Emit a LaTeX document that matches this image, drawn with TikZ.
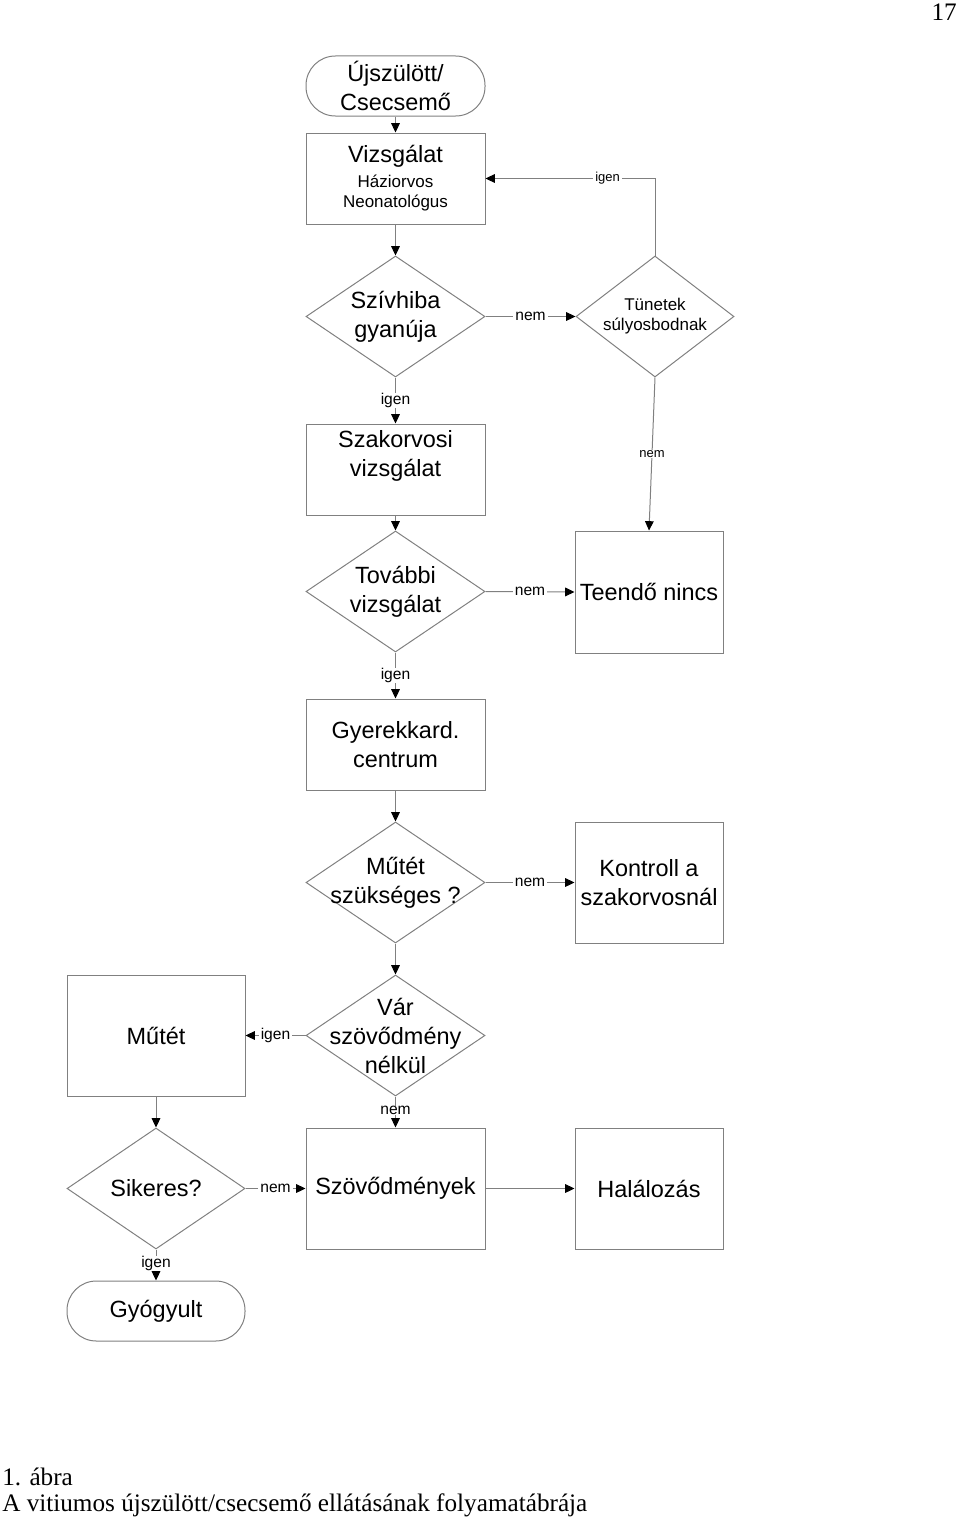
\documentclass[tikz,border=0pt]{standalone}
\usepackage{fontspec}
\setmainfont{Liberation Sans}
\newfontfamily\capserif{Liberation Serif}
\usetikzlibrary{shapes.geometric,arrows.meta}
\definecolor{linegray}{RGB}{128,128,128}
\newcommand\bigf{\fontsize{17.6pt}{21.75pt}\selectfont}
\newcommand\smallf{\fontsize{12.75pt}{15pt}\selectfont}
\newcommand\lblf{\fontsize{11.7pt}{13pt}\selectfont}
\newcommand\slblf{\fontsize{9.75pt}{11pt}\selectfont}
\newcommand\capf{\capserif\fontsize{18.9pt}{21pt}\selectfont}
\begin{document}
\begin{tikzpicture}[x=0.75pt,y=-0.75pt,
  lc/.style={draw=linegray, line width=0.75pt},
  boxs/.style={lc, rectangle, inner sep=0pt, align=center, font=\bigf},
  term/.style={boxs, rounded corners=22pt},
  dia/.style={lc, diamond, inner sep=0pt},
  dtext/.style={align=center, font=\bigf, inner sep=0pt},
  conn/.style={lc, -{Triangle[length=7pt,width=6.5pt,color=black,fill=black]}},
  lbl/.style={fill=white, inner xsep=1.5pt, inner ysep=0.5pt, font=\lblf},
  slbl/.style={lbl, font=\slblf},
]
\useasboundingbox (0,0) rectangle (960,1520);

% nodes
\node[term, minimum width=134.25pt, minimum height=45pt] (start) at (395.5,86) {Újszülött/\\Csecsemő};
\node[boxs, font=\smallf, minimum width=134.25pt, minimum height=68.25pt] (viz) at (395.5,178.5) {{\bigf Vizsgálat}\\[3.75pt]Háziorvos\\Neonatológus};

\node[dia, minimum width=134.25pt, minimum height=90.75pt] (d1) at (395.5,316.5) {};
\node[dtext] (d1t) at (d1.center) {Szívhiba\\gyanúja};

\node[dia, minimum width=118.5pt, minimum height=90.75pt] (d2) at (655,316.5) {};
\node[dtext, font=\smallf] (d2t) at (d2.center) {Tünetek\\súlyosbodnak};

\node[boxs, minimum width=134.25pt, minimum height=68.25pt] (szak) at (395.5,469.5) {Szakorvosi\\vizsgálat\\[-4.5pt]\strut};

\node[dia, minimum width=134.25pt, minimum height=90.75pt] (d3) at (395.5,591.5) {};
\node[dtext] (d3t) at (d3.center) {További\\vizsgálat};

\node[boxs, minimum width=111pt, minimum height=91.5pt] (teen) at (649,592) {Teendő nincs};

\node[boxs, minimum width=134.25pt, minimum height=68.25pt] (gyk) at (395.5,744.5) {Gyerekkard.\\centrum};

\node[dia, minimum width=134.25pt, minimum height=90.75pt] (d4) at (395.5,882.5) {};
\node[dtext] (d4t) at (d4.center) {Műtét\\szükséges ?};

\node[boxs, minimum width=111pt, minimum height=90.75pt] (kontr) at (649,882.5) {Kontroll a\\szakorvosnál};

\node[dia, minimum width=134.25pt, minimum height=90.75pt] (d5) at (395.5,1035.5) {};
\node[dtext] (d5t) at (d5.center) {Vár\\szövődmény\\nélkül};

\node[boxs, minimum width=133.5pt, minimum height=90.75pt] (mutet) at (156,1035.5) {Műtét};

\node[dia, minimum width=133.5pt, minimum height=90.75pt] (d6) at (156,1188.5) {};
\node[dtext] (d6t) at (d6.center) {Sikeres?};

\node[boxs, minimum width=134.25pt, minimum height=90.75pt] (szov) at (395.5,1188.5) {Szövődmények};

\node[boxs, minimum width=111pt, minimum height=90.75pt] (hal) at (649,1188.5) {Halálozás};

\node[term, minimum width=133.5pt, minimum height=45pt] (gyo) at (156,1311) {Gyógyult};

% connectors
\draw[conn] (start.south) -- (viz.north);
\draw[conn] (viz.south) -- (d1.north);
\draw[conn] (d1.east) -- node[lbl]{nem} (d2.west);
\draw[conn] (d2.north) |- node[slbl, pos=0.64]{igen} (viz.east);
\draw[conn] (d2.south) -- node[slbl]{nem} (teen.north);
\draw[conn] (d1.south) -- node[lbl]{igen} (szak.north);
\draw[conn] (szak.south) -- (d3.north);
\draw[conn] (d3.east) -- node[lbl]{nem} (teen.west);
\draw[conn] (d3.south) -- node[lbl]{igen} (gyk.north);
\draw[conn] (gyk.south) -- (d4.north);
\draw[conn] (d4.east) -- node[lbl]{nem} (kontr.west);
\draw[conn] (d4.south) -- (d5.north);
\draw[conn] (d5.west) -- node[lbl]{igen} (mutet.east);
\draw[conn] (d5.south) -- node[lbl, pos=0.45]{nem} (szov.north);
\draw[conn] (mutet.south) -- (d6.north);
\draw[conn] (d6.east) -- node[lbl]{nem} (szov.west);
\draw[conn] (szov.east) -- (hal.west);
\draw[conn] (d6.south) -- node[lbl, pos=0.45]{igen} (gyo.north);

% page number and caption
\node[font=\capf, anchor=east, inner sep=0pt] (pg) at (957,12) {17};
\node[font=\capf, anchor=west, inner sep=0pt] (cap1) at (2,1477) {1. ábra};
\node[font=\capf, anchor=west, inner sep=0pt] (cap2) at (2,1505) {A vitiumos újszülött/csecsemő ellátásának folyamatábrája};
\end{tikzpicture}
\end{document}
